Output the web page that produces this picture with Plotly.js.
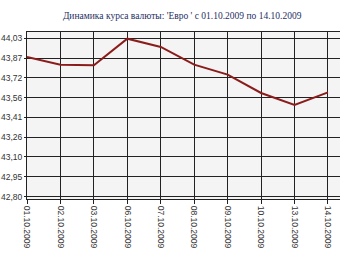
<!DOCTYPE html>
<html>
<head>
<meta charset="utf-8">
<script src="https://cdn.plot.ly/plotly-3.0.1.min.js"></script>
<style>html,body{margin:0;padding:0;background:#fff;}#chart{width:340px;height:255px;}</style>
</head>
<body>
<div id="chart"></div>
<script>
const dates = ["01.10.2009","02.10.2009","03.10.2009","06.10.2009","07.10.2009","08.10.2009","09.10.2009","10.10.2009","13.10.2009","14.10.2009"];
const rates = [43.884, 43.825, 43.820, 44.027, 43.963, 43.825, 43.748, 43.605, 43.513, 43.610];
const yTickVals = [42.80, 42.95375, 43.1075, 43.26125, 43.415, 43.56875, 43.7225, 43.87625, 44.03];
const yTickText = ["42,80","42,95","43,10","43,26","43,41","43,56","43,72","43,87","44,03"];
const titleText = "Динамика курса валюты: 'Евро ' с 01.10.2009 по 14.10.2009";

Plotly.newPlot('chart', [{
  x: dates, y: rates, type: 'scatter', mode: 'lines',
  line: {color: '#8b1c1c', width: 2}, hoverinfo: 'skip'
}], {
  width: 340, height: 255,
  margin: {l: 27, r: 0, t: 32, b: 56, pad: 0},
  paper_bgcolor: '#ffffff', plot_bgcolor: '#f4f4f4',
  showlegend: false,
  title: {text: titleText, font: {family: 'Liberation Serif', size: 9.5, color: '#1f2f5f'}, xref: 'container', x: 0.185, xanchor: 'left', yref: 'container', y: 0.94, yanchor: 'middle'},
  xaxis: {
    type: 'category', range: [0, 9.36], tickangle: 90,
    showgrid: true, gridcolor: '#222', gridwidth: 1,
    showline: true, linecolor: '#222', linewidth: 1, mirror: true,
    ticks: 'outside', ticklen: 4, tickcolor: '#222',
    tickfont: {family: 'Liberation Sans', size: 8.5, color: '#333'},
    zeroline: false, fixedrange: true
  },
  yaxis: {
    range: [42.781, 44.079], tickmode: 'array', tickvals: yTickVals, ticktext: yTickText,
    showgrid: true, gridcolor: '#222', gridwidth: 1,
    showline: true, linecolor: '#222', linewidth: 1,
    ticks: 'outside', ticklen: 2, tickcolor: '#222',
    tickfont: {family: 'Liberation Sans', size: 8.5, color: '#333'},
    zeroline: false, fixedrange: true
  }
}, {staticPlot: true, displayModeBar: false});
</script>
</body>
</html>
